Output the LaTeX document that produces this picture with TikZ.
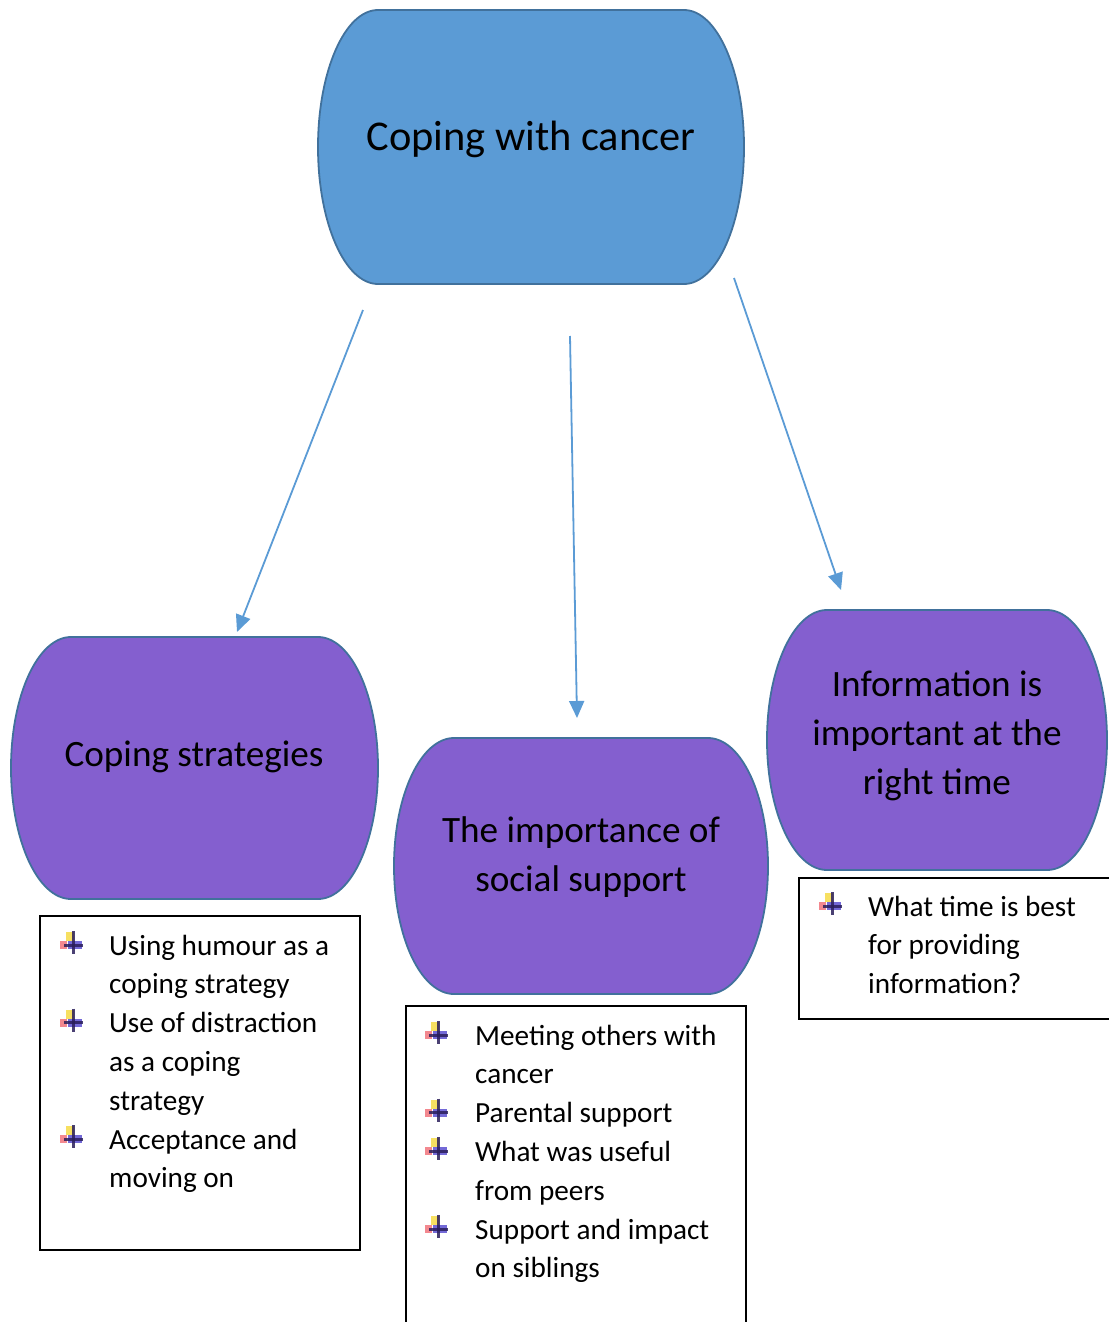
\documentclass[tikz,border=0pt]{standalone}
\usepackage{fontspec}
\setmainfont{Carlito}
\usetikzlibrary{arrows.meta}
\definecolor{topfill}{HTML}{5B9BD5}
\definecolor{edgeblue}{HTML}{41719C}
\definecolor{purp}{HTML}{845FCF}
\definecolor{arrowblue}{HTML}{5B9BD5}
\definecolor{bulyel}{HTML}{F5D83A}
\definecolor{bulred}{HTML}{EE5560}
\definecolor{bulblue}{HTML}{5A4FD0}
\definecolor{buldark}{HTML}{2A1E5A}
\newcommand{\capsule}[6]{%
  \pgfmathsetmacro{\cw}{#4-#2}\pgfmathsetmacro{\chh}{(#5-#3)/2}%
  \path[capsulestyle, fill=#6] (#2+60,-#3) -- (#4-60,-#3)
     arc[start angle=90,end angle=-90,x radius=60pt,y radius=\chh pt]
     -- (#2+60,-#5)
     arc[start angle=270,end angle=90,x radius=60pt,y radius=\chh pt] -- cycle;
  \node[minimum width=\cw pt, minimum height=2*\chh pt, inner sep=0pt] (#1) at ({(#2+#4)/2},{-(#3+#5)/2}) {};
}
\tikzset{
  capsulestyle/.style={draw=edgeblue, line width=1.8pt},
  conn/.style={draw=arrowblue, line width=1.8pt, -{Triangle[length=17pt,width=15pt]}},
  listbox/.style={draw=black, line width=1.6pt, inner sep=0pt},
  titletext/.style={font=\fontsize{42.4}{56}\selectfont, anchor=base, inner sep=0pt},
  bigtext/.style={font=\fontsize{37.2}{49}\selectfont, anchor=base, align=center, inner sep=0pt},
  itemtext/.style={font=\fontsize{29.2}{38.8}\selectfont, anchor=base west, align=left, inner sep=0pt},
  bul/.pic={
    \fill[bulyel, opacity=.8] (-7,11) rectangle (1,2);
    \fill[bulred, opacity=.7] (-13,2) rectangle (-6,-6);
    \fill[bulblue, opacity=.85] (-5,2) rectangle (9,-6);
    \draw[buldark, line width=3pt, opacity=.85] (0,12) -- (0,-11);
    \draw[buldark, line width=3pt, opacity=.85] (-9,-2) -- (10,-2);
  }
}
\begin{document}
\begin{tikzpicture}[x=1pt,y=1pt]
\useasboundingbox (0,0) rectangle (1108,-1322);
% capsule shapes
\capsule{top}{318}{10}{744}{284}{topfill}
\capsule{left}{11}{637}{378}{899}{purp}
\capsule{mid}{394}{738}{768}{994}{purp}
\capsule{right}{767}{610}{1107}{870}{purp}
% capsule texts (base anchor = last line)
\node[titletext] (toptext) at (531,-150) {Coping with cancer};
\node[bigtext] (lefttext) at (194,-766) {Coping strategies};
\node[bigtext] (midtext) at (581,-891) {The importance of\\social support};
\node[bigtext] (righttext) at (937,-794) {Information is\\important at the\\right time};
% arrows
\coordinate (a1s) at (363,-310); \coordinate (a1e) at (237,-632);
\coordinate (a2s) at (570,-336); \coordinate (a2e) at (577,-718);
\coordinate (a3s) at (734,-278); \coordinate (a3e) at (841,-590);
\draw[conn] (a1s) -- (a1e);
\draw[conn] (a2s) -- (a2e);
\draw[conn] (a3s) -- (a3e);
% list boxes
\node[listbox, minimum width=320pt, minimum height=334pt] (llist) at (200,-1083) {};
\node[listbox, minimum width=340pt, minimum height=330pt] (mlist) at (576,-1171) {};
\node[listbox, minimum width=330pt, minimum height=141pt] (rlist) at (964,-948.5) {};
% left list
\pic at (73,-943) {bul};
\node[itemtext] (l1) at (109,-993.8) {Using humour as a\\coping strategy};
\pic at (73,-1020.6) {bul};
\node[itemtext] (l2) at (109,-1110.2) {Use of distraction\\as a coping\\strategy};
\pic at (73,-1137) {bul};
\node[itemtext] (l3) at (109,-1187.8) {Acceptance and\\moving on};
% middle list
\pic at (438,-1033) {bul};
\node[itemtext] (m1) at (475,-1083.8) {Meeting others with\\cancer};
\pic at (438,-1110.6) {bul};
\node[itemtext] (m2) at (475,-1122.6) {Parental support};
\pic at (438,-1149.4) {bul};
\node[itemtext] (m3) at (475,-1200.2) {What was useful\\from peers};
\pic at (438,-1227) {bul};
\node[itemtext] (m4) at (475,-1277.8) {Support and impact\\on siblings};
% right list
\pic at (832,-904) {bul};
\node[itemtext] (r1) at (868,-993.6) {What time is best\\for providing\\information?};
\end{tikzpicture}
\end{document}
